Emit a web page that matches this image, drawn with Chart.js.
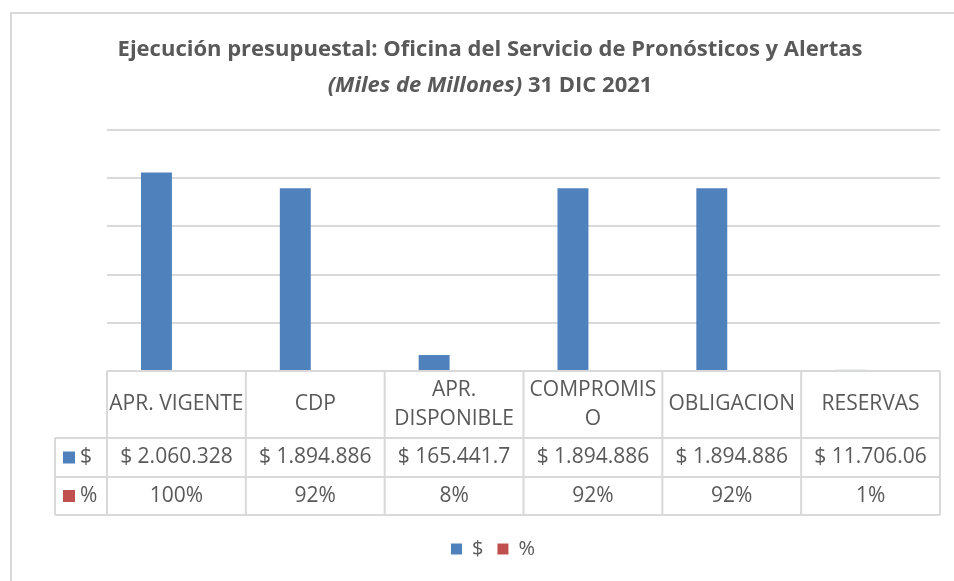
<!DOCTYPE html>
<html>
<head>
<meta charset="utf-8">
<script src="https://cdn.jsdelivr.net/npm/chart.js@4.4.1/dist/chart.umd.min.js"></script>
<style>
  body { margin: 0; background: #fff; }
  canvas { display: block; }
</style>
</head>
<body>
<canvas id="grafico" width="954" height="581"></canvas>
<script>
// Datos del gráfico
const categorias = [['APR. VIGENTE'], ['CDP'], ['APR.', 'DISPONIBLE'], ['COMPROMIS', 'O'], ['OBLIGACION'], ['RESERVAS']];
const montos = [2060328, 1894886, 165441.7, 1894886, 1894886, 11706.06];
const porcentajes = [1, 0.92, 0.08, 0.92, 0.92, 0.01];
const montosTexto = ['$ 2.060.328', '$ 1.894.886', '$ 165.441.7', '$ 1.894.886', '$ 1.894.886', '$ 11.706.06'];
const porcentajesTexto = ['100%', '92%', '8%', '92%', '92%', '1%'];

const AZUL = '#4f81bd';
const ROJO = '#c0504d';
const GRIS = '#595959';
const LINEA = '#d9d9d9';
const FUENTE = '"Open Sans", sans-serif';

// Título y borde exterior
const tituloPlugin = {
  id: 'titulo',
  beforeDraw(chart) {
    const ctx = chart.ctx;
    ctx.save();
    ctx.strokeStyle = LINEA;
    ctx.lineWidth = 2;
    ctx.beginPath();
    ctx.moveTo(11, 581);
    ctx.lineTo(11, 13);
    ctx.lineTo(954, 13);
    ctx.stroke();

    ctx.fillStyle = GRIS;
    ctx.textBaseline = 'middle';
    ctx.textAlign = 'center';
    ctx.font = 'bold 22px ' + FUENTE;
    ctx.fillText('Ejecución presupuestal: Oficina del Servicio de Pronósticos y Alertas', 490, 50);

    // segunda linea con estilos mezclados
    const p1 = '(Miles de Millones)';
    const p2 = ' 31 DIC 2021';
    ctx.font = 'italic bold 22px ' + FUENTE;
    const w1 = ctx.measureText(p1).width;
    ctx.font = 'bold 22px ' + FUENTE;
    const w2 = ctx.measureText(p2).width;
    const x0 = 490 - (w1 + w2) / 2;
    ctx.textAlign = 'left';
    ctx.font = 'italic bold 22px ' + FUENTE;
    ctx.fillText(p1, x0, 86);
    ctx.font = 'bold 22px ' + FUENTE;
    ctx.fillText(p2, x0 + w1, 86);
    ctx.restore();
  }
};

// Tabla de datos bajo el eje
const tablaPlugin = {
  id: 'tabla',
  afterDraw(chart) {
    const { ctx, chartArea: a, scales: { x } } = chart;
    const n = categorias.length;
    const bordes = [a.left];
    for (let i = 0; i < n - 1; i++) {
      bordes.push((x.getPixelForValue(i) + x.getPixelForValue(i + 1)) / 2);
    }
    bordes.push(a.right);
    const y0 = a.bottom;
    const y1 = y0 + 67;
    const y2 = y1 + 39;
    const y3 = y2 + 38;
    const izq = 55;

    ctx.save();
    ctx.strokeStyle = LINEA;
    ctx.lineWidth = 2;
    ctx.beginPath();
    ctx.moveTo(a.left, y0); ctx.lineTo(a.right, y0);
    ctx.moveTo(izq, y1); ctx.lineTo(a.right, y1);
    ctx.moveTo(izq, y2); ctx.lineTo(a.right, y2);
    ctx.moveTo(izq, y3); ctx.lineTo(a.right, y3);
    bordes.forEach(b => { ctx.moveTo(b, y0); ctx.lineTo(b, y3); });
    ctx.moveTo(izq, y1); ctx.lineTo(izq, y3);
    ctx.stroke();

    ctx.fillStyle = GRIS;
    ctx.textBaseline = 'middle';
    ctx.textAlign = 'center';
    ctx.font = '21px ' + FUENTE;
    categorias.forEach((lineas, i) => {
      const cx = (bordes[i] + bordes[i + 1]) / 2;
      const cy = (y0 + y1) / 2;
      const alto = 29;
      lineas.forEach((t, k) => {
        ctx.fillText(t, cx, cy + (k - (lineas.length - 1) / 2) * alto);
      });
      ctx.fillText(montosTexto[i], cx, (y1 + y2) / 2);
      ctx.fillText(porcentajesTexto[i], cx, (y2 + y3) / 2);
    });

    // claves de la serie
    ctx.fillStyle = AZUL;
    ctx.fillRect(63, (y1 + y2) / 2 - 6, 12, 12);
    ctx.fillStyle = ROJO;
    ctx.fillRect(63, (y2 + y3) / 2 - 6, 12, 12);
    ctx.fillStyle = GRIS;
    ctx.textAlign = 'left';
    ctx.fillText('$', 80, (y1 + y2) / 2);
    ctx.fillText('%', 80, (y2 + y3) / 2);
    ctx.restore();
  }
};

new Chart(document.getElementById('grafico'), {
  type: 'bar',
  data: {
    labels: categorias,
    datasets: [
      { label: '$', data: montos, backgroundColor: AZUL },
      { label: '%', data: porcentajes, backgroundColor: ROJO }
    ]
  },
  options: {
    responsive: false,
    animation: false,
    categoryPercentage: 0.575,
    barPercentage: 0.775,
    layout: { padding: { top: 130, left: 46, right: 14, bottom: 12 } },
    scales: {
      x: {
        ticks: { display: false },
        grid: { display: false, drawTicks: false },
        border: { display: false },
        afterFit(s) { s.height = 154; }
      },
      y: {
        min: 0,
        max: 2500000,
        ticks: { display: false, stepSize: 500000 },
        grid: { color: LINEA, lineWidth: 2, drawTicks: false },
        border: { display: false },
        afterFit(s) { s.width = 61; }
      }
    },
    plugins: {
      title: { display: false },
      tooltip: { enabled: false },
      legend: {
        position: 'bottom',
        labels: {
          boxWidth: 11,
          boxHeight: 11,
          color: GRIS,
          font: { family: FUENTE, size: 20 },
          padding: 14
        }
      }
    }
  },
  plugins: [tituloPlugin, tablaPlugin]
});
</script>
</body>
</html>
